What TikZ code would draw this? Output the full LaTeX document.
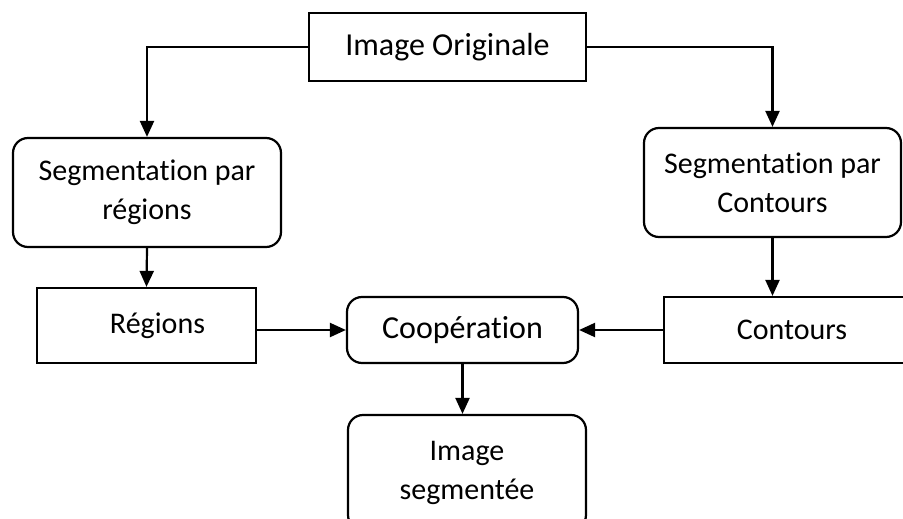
\documentclass[tikz,border=0pt]{standalone}
\usepackage{fontspec}
\setmainfont[Ligatures=NoCommon]{Carlito}
\usetikzlibrary{arrows.meta}
\begin{document}
\begin{tikzpicture}[x=1pt,y=-1pt,
  box/.style={draw,line width=2.2pt,inner sep=0pt,align=center,font=\fontsize{30}{39}\selectfont},
  rbox/.style={box,rounded corners=15pt},
  big/.style={font=\fontsize{32}{39}\selectfont},
  conn/.style={line width=2.2pt,-{Triangle[length=16pt,width=14pt]}}]
\useasboundingbox (0,0) rectangle (903,519);
\clip (0,0) rectangle (903,519);
\node[box,big,minimum width=277pt,minimum height=68pt] (io) at (447.5,47) {Image Originale};
\node[rbox,minimum width=268pt,minimum height=109pt] (sr) at (147,192.5) {Segmentation par\\régions};
\node[rbox,minimum width=257pt,minimum height=109pt] (sc) at (772.5,182.5) {Segmentation par\\Contours};
\node[box,minimum width=219pt,minimum height=75pt] (reg) at (146.5,325.5) {\hspace*{22pt}Régions};
\node[rbox,big,minimum width=231pt,minimum height=66pt] (coop) at (462.5,330) {Coopération};
\node[box,minimum width=256pt,minimum height=66pt] (cont) at (792,330) {Contours};
\node[rbox,minimum width=238pt,minimum height=115pt] (ims) at (467,472.5) {Image\\segmentée};
\draw[conn] (io.west) -| (sr.north);
\draw[conn] (io.east) -| (sc.north);
\draw[conn] (sr.south) -- (reg.north);
\draw[conn] (sc.south) -- (sc.south |- cont.north);
\draw[conn] (reg.east |- coop.west) -- (coop.west);
\draw[conn] (cont.west) -- (coop.east);
\draw[conn] (coop.south) -- (coop.south |- ims.north);
\end{tikzpicture}
\end{document}
